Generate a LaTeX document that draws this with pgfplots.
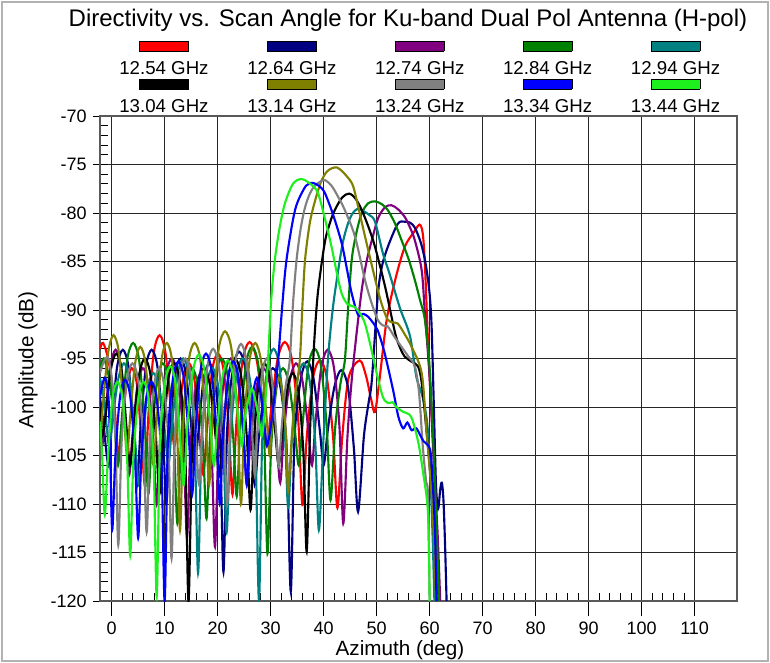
\documentclass[border=0pt]{standalone}
\usepackage{fontspec}
\setmainfont{Liberation Sans}
\usepackage{pgfplots}
\pgfplotsset{compat=1.18}
\definecolor{cRed}{RGB}{255,0,0}
\definecolor{cNavy}{RGB}{0,0,128}
\definecolor{cPurple}{RGB}{128,0,128}
\definecolor{cDkGreen}{RGB}{0,128,0}
\definecolor{cTeal}{RGB}{0,128,128}
\definecolor{cBlack}{RGB}{0,0,0}
\definecolor{cOlive}{RGB}{128,128,0}
\definecolor{cGray}{RGB}{128,128,128}
\definecolor{cBlue}{RGB}{0,0,255}
\definecolor{cLime}{RGB}{30,240,30}
\newcommand{\legbox}[1]{{\setlength{\fboxsep}{0pt}\setlength{\fboxrule}{0.5pt}\fcolorbox{black}{#1}{\rule{0pt}{6.8pt}\hspace{36pt}}}}
\newcommand{\legcell}[2]{\vbox{\offinterlineskip\halign{\hfil##\hfil\cr\legbox{#1}\cr\noalign{\kern 7.4pt}#2\cr}}}
\begin{document}
\begin{tikzpicture}[x=1pt,y=1pt]
\useasboundingbox (-75,-46.5) rectangle (502.5,450.75);
\draw[gray!60, line width=1pt] (-73.5,-45) rectangle (501,449.25);
\begin{axis}[
  at={(0,0)}, anchor=south west,
  scale only axis, width=477.75pt, height=363.75pt,
  xmin=-2.2, xmax=118, ymin=-120, ymax=-70,
  xtick={0,10,...,110}, ytick={-120,-115,...,-70},
  minor x tick num=4, minor y tick num=4,
  tickpos=left, tick align=inside,
  major tick length=11.25pt, minor tick length=6pt,
  major x tick style={yshift=-11.25pt, black, line width=0.6pt},
  major y tick style={xshift=-5pt, black, line width=0.6pt},
  minor tick style={black, line width=0.6pt},
  grid=major, major grid style={black!85, line width=0.6pt},
  axis line style={black!65, line width=0.8pt},
  /pgf/number format/assume math mode=true,
  tick label style={font=\fontsize{13.5}{15}\selectfont},
  xticklabel style={yshift=-12.5pt},
  yticklabel style={xshift=-6.5pt},
  title={Directivity vs. Scan Angle for Ku-band Dual Pol Antenna (H-pol)},
  title style={at={(axis description cs:0.4835,1.181)}, anchor=center, font=\fontsize{18}{20}\selectfont},
  xlabel={Azimuth (deg)},
  xlabel style={at={(axis description cs:0.471,-0.101)}, anchor=center, font=\fontsize{15.5}{17}\selectfont},
  ylabel={Amplitude (dB)},
  ylabel style={at={(axis description cs:-0.113,0.497)}, anchor=center, font=\fontsize{15.5}{17}\selectfont},
  legend image code/.code={},
  legend cell align=center,
  legend style={at={(axis description cs:0.502,1.1546)}, anchor=north, draw=none, fill=none,
    inner sep=0pt, outer sep=0pt, legend columns=5, font=\fontsize{14}{16}\selectfont,
    nodes={inner sep=0pt, outer sep=0pt},
    /tikz/every even column/.append style={column sep=29pt},
    /tikz/every odd column/.append style={column sep=0pt},
    row sep=2pt},
  every axis plot/.append style={line width=1.6pt, smooth},
]
\addplot[cRed] coordinates {
(-2.2,-94.0) (-1.6,-93.4) (-0.6,-95.2) (0.4,-99.0) (1.3,-105.0)
(1.9,-101.9) (2.8,-97.8) (3.8,-96.0) (4.8,-97.8) (5.7,-104.0) (6.3,-108.0)
(6.96,-100.6) (7.95,-94.4) (9.05,-92.6) (10.15,-94.4) (11.14,-100.0) (11.8,-104.0)
(12.46,-101.7) (13.45,-97.3) (14.55,-95.5) (15.65,-97.3) (16.64,-103.5) (17.3,-107.0)
(17.96,-102.5) (18.95,-96.3) (20.05,-94.5) (21.15,-96.3) (22.14,-102.5) (22.8,-109.0)
(23.58,-101.3) (24.75,-95.1) (26.05,-93.3) (27.35,-95.1) (28.52,-100.0) (29.3,-104.0)
(30.1,-100.2) (31.3,-95.1) (32.65,-93.3) (34.0,-95.1) (35.2,-101.3) (36.0,-110.1)
(36.8,-103.2) (38.0,-97.0) (39.3,-95.2) (40.6,-97.0) (41.8,-103.2) (42.6,-110.4)
(43.5,-103.2) (44.7,-97.0) (46.8,-95.2) (48.0,-96.8) (49.0,-99.3) (49.7,-100.5)
(50.6,-96.9) (51.9,-91.0) (53.5,-86.9) (55.3,-83.5) (57.0,-82.0) (58.1,-81.2) (58.7,-82.1)
(59.1,-85.2) (59.6,-92.0) (60.1,-98.0) (60.6,-103.0) (61.0,-107.0) (61.4,-116.0) (61.7,-120)
};
\addlegendentry{\legcell{cRed}{12.54 GHz}}
\addplot[cNavy] coordinates {
(-2.2,-99.0) (-1.5,-102.0) (-0.6,-106.0)
(0.05,-101.6) (1.02,-95.9) (2.1,-94.1) (3.18,-95.9) (4.15,-102.1) (4.8,-108.0)
(5.46,-102.1) (6.45,-95.9) (7.55,-94.1) (8.65,-95.9) (9.64,-102.1) (10.3,-110.0)
(10.95,-103.0) (11.92,-96.8) (13.0,-95.0) (14.08,-96.8) (15.05,-102.2) (15.7,-106.0)
(16.35,-102.7) (17.32,-97.3) (18.4,-95.5) (19.48,-97.3) (20.45,-103.5) (21.1,-117.0)
(21.8,-102.3) (22.87,-96.1) (24.05,-94.3) (25.23,-96.1) (26.3,-102.3) (27.0,-108.0)
(27.8,-103.0) (29.0,-97.8) (30.4,-96.0) (31.8,-97.8) (33.0,-104.0) (33.8,-119.0)
(34.5,-103.3) (35.7,-97.1) (36.9,-95.3) (38.1,-97.1) (39.3,-102.5) (40.0,-106.0)
(40.8,-102.3) (42.0,-98.0) (43.3,-96.2) (44.6,-98.0) (45.7,-104.2) (46.5,-110.8)
(47.6,-103.0) (48.5,-99.5) (49.1,-97.2) (50.2,-88.6) (51.0,-85.5) (52.1,-83.5) (54.0,-81.1)
(55.3,-80.9) (56.3,-81.0) (57.2,-81.5) (58.3,-83.0) (59.1,-84.8) (59.7,-86.9) (60.1,-89.0)
(60.4,-92.1) (60.8,-100.0) (61.2,-108.0) (61.6,-110.5) (62.0,-108.5) (62.3,-107.8)
(62.6,-109.5) (62.9,-114.0) (63.2,-120)
};
\addlegendentry{\legcell{cNavy}{12.64 GHz}}
\addplot[cPurple] coordinates {
(-2.2,-100.0) (-1.8,-104.0)
(-1.19,-100.6) (-0.27,-95.9) (0.75,-94.1) (1.77,-95.9) (2.69,-102.1) (3.3,-107.0)
(3.92,-103.0) (4.86,-97.8) (5.9,-96.0) (6.94,-97.8) (7.88,-104.0) (8.5,-110.0)
(9.18,-103.0) (10.21,-96.8) (11.35,-95.0) (12.49,-96.8) (13.52,-103.0) (14.2,-113.5)
(14.84,-104.5) (15.79,-98.3) (16.85,-96.5) (17.91,-98.3) (18.86,-104.5) (19.5,-114.4)
(20.22,-103.0) (21.3,-96.8) (22.5,-95.0) (23.7,-96.8) (24.78,-102.0) (25.5,-108.0)
(26.26,-103.0) (27.39,-97.8) (28.65,-96.0) (29.91,-97.8) (31.04,-103.0) (31.8,-107.8)
(32.52,-102.5) (33.6,-97.3) (34.8,-95.5) (36.0,-97.3) (37.08,-102.2) (37.8,-106.0)
(38.51,-101.3) (39.57,-95.9) (40.75,-94.1) (41.93,-95.9) (42.99,-102.1) (43.7,-112.0)
(44.5,-103.0) (45.3,-97.2) (46.3,-92.0) (47.2,-87.9) (48.1,-85.0) (49.1,-82.8) (50.3,-80.5)
(51.6,-79.4) (52.8,-79.2) (54.0,-79.6) (55.3,-80.4) (56.3,-81.5) (57.2,-82.8) (58.5,-85.9)
(59.1,-90.3) (60.0,-97.0) (60.8,-106.0) (61.5,-113.0) (62.0,-120)
};
\addlegendentry{\legcell{cPurple}{12.74 GHz}}
\addplot[cDkGreen] coordinates {
(-2.2,-96.0) (-1.5,-95.0) (-0.5,-97.0) (0.5,-101.5) (1.2,-106.0)
(1.88,-101.4) (2.91,-95.2) (4.05,-93.4) (5.19,-95.2) (6.22,-101.4) (6.9,-109.0)
(7.56,-103.5) (8.55,-97.3) (9.65,-95.5) (10.75,-97.3) (11.74,-103.5) (12.4,-112.0)
(13.06,-104.0) (14.05,-97.8) (15.15,-96.0) (16.25,-97.8) (17.24,-104.0) (17.9,-111.5)
(18.58,-103.0) (19.61,-96.8) (20.75,-95.0) (21.89,-96.8) (22.92,-103.0) (23.6,-109.2)
(24.3,-101.8) (25.34,-95.6) (26.5,-93.8) (27.66,-95.6) (28.7,-101.8) (29.4,-115.1)
(30.11,-104.0) (31.17,-97.8) (32.35,-96.0) (33.53,-97.8) (34.59,-102.5) (35.3,-106.0)
(36.02,-101.8) (37.1,-95.8) (38.3,-94.0) (39.5,-95.8) (40.58,-102.0) (41.3,-109.6)
(42.2,-102.0) (43.2,-97.5) (44.0,-95.2) (44.6,-90.0) (45.3,-84.8) (46.2,-82.0) (47.2,-80.0)
(48.4,-79.0) (49.7,-78.8) (51.0,-79.1) (52.1,-79.7) (53.4,-81.0) (54.7,-82.8) (56.0,-84.7)
(57.2,-86.9) (58.2,-89.0) (59.1,-91.0) (60.0,-96.0) (60.8,-105.0) (61.4,-114.0) (61.8,-120)
};
\addlegendentry{\legcell{cDkGreen}{12.84 GHz}}
\addplot[cTeal] coordinates {
(-2.2,-97.0) (-1.4,-99.5) (-0.5,-104.0)
(0.17,-101.3) (1.18,-97.3) (2.3,-95.5) (3.42,-97.3) (4.43,-103.5) (5.1,-108.0)
(5.77,-104.5) (6.78,-98.3) (7.9,-96.5) (9.02,-98.3) (10.03,-102.5) (10.7,-106.0)
(11.37,-102.0) (12.38,-96.8) (13.5,-95.0) (14.62,-96.8) (15.63,-103.0) (16.3,-117.1)
(16.95,-104.0) (17.92,-97.8) (19.0,-96.0) (20.08,-97.8) (21.05,-104.0) (21.7,-112.9)
(22.43,-103.0) (23.53,-96.8) (24.75,-95.0) (25.97,-96.8) (27.07,-103.0) (27.8,-119.9)
(28.46,-102.0) (29.45,-95.8) (30.55,-94.0) (31.65,-95.8) (32.64,-102.0) (33.3,-110.4)
(34.0,-103.5) (35.04,-97.3) (36.2,-95.5) (37.36,-97.3) (38.4,-103.5) (39.1,-112.7)
(39.9,-104.0) (40.4,-99.0) (40.8,-95.2) (41.4,-91.5) (42.1,-88.3) (43.6,-83.1) (45.0,-80.5)
(46.3,-79.6) (47.5,-79.8) (48.6,-80.2) (49.7,-80.9) (51.2,-84.2) (52.4,-86.2) (54.4,-89.8)
(56.3,-92.7) (57.5,-96.9) (58.7,-99.0) (59.6,-102.0) (60.2,-108.0) (60.6,-114.0) (60.9,-120)
};
\addlegendentry{\legcell{cTeal}{12.94 GHz}}
\addplot[cBlack] coordinates {
(-2.2,-100.0) (-1.8,-103.0)
(-1.16,-101.0) (-0.21,-96.3) (0.85,-94.5) (1.91,-96.3) (2.86,-102.5) (3.5,-106.0)
(4.16,-102.0) (5.15,-96.8) (6.25,-95.0) (7.35,-96.8) (8.34,-103.0) (9.0,-109.0)
(9.66,-103.5) (10.65,-97.3) (11.75,-95.5) (12.85,-97.3) (13.84,-103.5) (14.5,-120.0)
(15.2,-104.0) (16.24,-97.8) (17.4,-96.0) (18.56,-97.8) (19.6,-103.0) (20.3,-107.0)
(21.01,-102.5) (22.07,-96.8) (23.25,-95.0) (24.43,-96.8) (25.49,-103.0) (26.2,-110.6)
(26.84,-103.5) (27.79,-97.3) (28.85,-95.5) (29.91,-97.3) (30.86,-102.5) (31.5,-106.0)
(32.14,-103.0) (33.09,-98.3) (34.15,-96.5) (35.21,-98.3) (36.16,-104.5) (36.8,-114.9)
(37.4,-103.0) (37.8,-98.0) (38.2,-93.5) (38.9,-88.3) (40.2,-83.1) (41.2,-81.0) (42.1,-79.7)
(43.5,-78.4) (44.8,-78.0) (46.0,-78.5) (47.2,-79.7) (48.5,-81.5) (49.7,-83.5) (51.6,-87.6)
(53.5,-92.4) (54.5,-94.0) (55.3,-94.8) (56.5,-95.3) (57.8,-95.8) (58.5,-97.5) (59.4,-102.4)
(60.3,-108.0) (60.9,-114.0) (61.3,-120)
};
\addlegendentry{\legcell{cBlack}{13.04 GHz}}
\addplot[cOlive] coordinates {
(-2.2,-104.0)
(-1.6,-99.5) (-0.67,-94.4) (0.35,-92.6) (1.37,-94.4) (2.29,-100.6) (2.9,-105.0)
(3.5,-101.0) (4.4,-95.6) (5.4,-93.8) (6.4,-95.6) (7.3,-101.8) (7.9,-106.0)
(8.5,-101.4) (9.4,-95.2) (10.4,-93.4) (11.4,-95.2) (12.3,-101.4) (12.9,-112.7)
(13.56,-101.4) (14.55,-95.2) (15.65,-93.4) (16.75,-95.2) (17.74,-101.4) (18.4,-108.0)
(19.12,-100.2) (20.2,-94.0) (21.4,-92.2) (22.6,-94.0) (23.68,-100.2) (24.4,-110.0)
(25.05,-101.4) (26.02,-95.2) (27.1,-93.4) (28.18,-95.2) (29.15,-100.5) (29.8,-105.0)
(30.2,-102.0) (30.85,-98.5) (31.55,-97.0) (32.25,-98.5) (32.9,-103.0) (33.3,-108.6)
(34.0,-103.0) (34.6,-99.0) (35.5,-95.2) (36.0,-89.5) (36.5,-84.8) (37.4,-81.0) (38.4,-78.7)
(39.5,-76.8) (40.5,-75.8) (41.5,-75.4) (42.5,-75.3) (43.5,-75.7) (44.5,-76.3) (45.3,-76.9)
(45.9,-77.9) (47.8,-82.4) (50.2,-87.9) (51.2,-89.8) (52.1,-91.0) (53.1,-91.3) (54.0,-91.4)
(55.3,-92.5) (56.6,-93.8) (58.5,-96.5) (59.4,-102.4) (60.4,-109.2) (60.9,-115.0) (61.2,-120)
};
\addlegendentry{\legcell{cOlive}{13.14 GHz}}
\addplot[cGray] coordinates {
(-2.2,-96.5) (-1.4,-95.2) (-0.6,-95.0) (0.1,-97.5) (0.7,-103.0) (1.25,-114.2)
(1.89,-103.5) (2.86,-97.3) (3.93,-95.5) (5.0,-97.3) (5.96,-103.5) (6.6,-112.9)
(7.16,-104.0) (8.01,-97.8) (8.95,-96.0) (9.89,-97.8) (10.74,-104.0) (11.3,-115.6)
(11.92,-103.0) (12.86,-96.8) (13.9,-95.0) (14.94,-96.8) (15.88,-103.0) (16.5,-108.0)
(17.14,-102.0) (18.09,-95.8) (19.15,-94.0) (20.21,-95.8) (21.16,-102.0) (21.8,-110.0)
(22.42,-101.5) (23.36,-95.3) (24.4,-93.5) (25.44,-95.3) (26.38,-101.5) (27.0,-107.0)
(27.54,-102.0) (28.35,-96.8) (29.25,-95.0) (30.15,-96.8) (30.96,-102.0) (31.5,-106.0)
(32.1,-102.0) (32.8,-98.0) (33.6,-95.2) (34.2,-89.5) (34.9,-84.8) (35.7,-81.5) (36.5,-79.4)
(37.4,-78.0) (38.3,-77.2) (39.3,-76.8) (40.2,-76.6) (41.5,-77.2) (42.7,-78.3) (44.0,-79.7)
(45.9,-82.4) (47.8,-86.9) (49.0,-89.2) (50.2,-91.0) (51.2,-91.6) (52.1,-91.7) (53.4,-92.8)
(54.7,-93.8) (56.0,-94.8) (57.2,-95.8) (58.0,-98.5) (58.7,-104.0) (59.3,-107.5) (59.7,-109.2) (60.0,-120)
};
\addlegendentry{\legcell{cGray}{13.24 GHz}}
\addplot[cBlue] coordinates {
(-2.2,-99.0) (-1.7,-97.6) (-1.2,-97.0) (-0.6,-99.0) (-0.3,-104.0) (0.1,-112.7)
(0.69,-105.2) (1.57,-99.0) (2.55,-97.2) (3.53,-99.0) (4.41,-105.2) (5.0,-113.5)
(5.6,-105.4) (6.5,-99.2) (7.5,-97.4) (8.5,-99.2) (9.4,-105.4) (10.0,-120.0)
(10.62,-103.3) (11.56,-97.1) (12.6,-95.3) (13.64,-97.1) (14.58,-103.3) (15.2,-109.0)
(15.82,-102.5) (16.76,-96.3) (17.8,-94.5) (18.84,-96.3) (19.78,-102.5) (20.4,-110.0)
(21.01,-103.3) (21.93,-97.1) (22.95,-95.3) (23.97,-97.1) (24.89,-103.0) (25.5,-108.0)
(25.96,-103.0) (26.64,-98.8) (27.4,-97.0) (28.16,-98.8) (28.84,-102.0) (29.3,-104.0)
(29.9,-102.5) (30.5,-100.0) (31.4,-95.2) (32.2,-89.5) (33.0,-84.8) (34.6,-79.7) (36.3,-77.5)
(37.2,-77.0) (38.0,-76.9) (39.1,-77.2) (40.2,-77.9) (41.8,-80.2) (43.4,-83.1) (44.4,-85.8)
(45.3,-88.3) (46.5,-90.5) (47.5,-90.4) (48.4,-90.7) (49.3,-91.3) (50.2,-92.1) (51.2,-93.8)
(52.1,-95.8) (53.2,-98.5) (54.1,-101.0) (55.0,-102.2) (55.8,-101.6) (56.6,-102.4) (57.5,-102.2)
(58.8,-103.5) (60.1,-104.4) (60.6,-108.0) (61.0,-112.7) (61.3,-120)
};
\addlegendentry{\legcell{cBlue}{13.34 GHz}}
\addplot[cLime] coordinates {
(-2.2,-101.5) (-1.8,-105.0) (-1.3,-111.1)
(-0.72,-105.4) (0.14,-99.2) (1.1,-97.4) (2.06,-99.2) (2.92,-105.4) (3.5,-115.3)
(4.1,-105.4) (5.0,-99.2) (6.0,-97.4) (7.0,-99.2) (7.9,-105.4) (8.5,-119.5)
(9.11,-103.8) (10.03,-97.6) (11.05,-95.8) (12.07,-97.6) (12.99,-103.8) (13.6,-108.0)
(14.28,-102.0) (15.31,-96.4) (16.45,-94.6) (17.59,-96.4) (18.62,-102.0) (19.3,-106.0)
(19.94,-102.0) (20.89,-97.0) (21.95,-95.2) (23.01,-97.0) (23.96,-101.5) (24.6,-104.0)
(25.04,-101.5) (25.71,-99.5) (26.45,-98.1) (27.19,-99.5) (27.86,-101.5) (28.3,-103.0)
(28.8,-101.0) (29.5,-95.2) (30.1,-89.0) (30.8,-84.8) (31.7,-81.5) (32.7,-79.0) (34.2,-77.0)
(35.8,-76.5) (37.5,-77.0) (38.9,-77.9) (40.2,-80.5) (41.5,-83.5) (42.5,-86.2) (43.4,-88.3)
(44.5,-89.4) (45.9,-89.7) (46.9,-90.4) (47.8,-91.4) (48.9,-93.8) (50.0,-96.5) (51.2,-99.0)
(52.2,-99.6) (53.0,-99.5) (53.7,-100.0) (55.0,-100.5) (56.5,-101.0) (57.8,-103.5) (58.7,-106.5)
(59.7,-111.0) (60.0,-120)
};
\addlegendentry{\legcell{cLime}{13.44 GHz}}
\end{axis}
\end{tikzpicture}
\end{document}
